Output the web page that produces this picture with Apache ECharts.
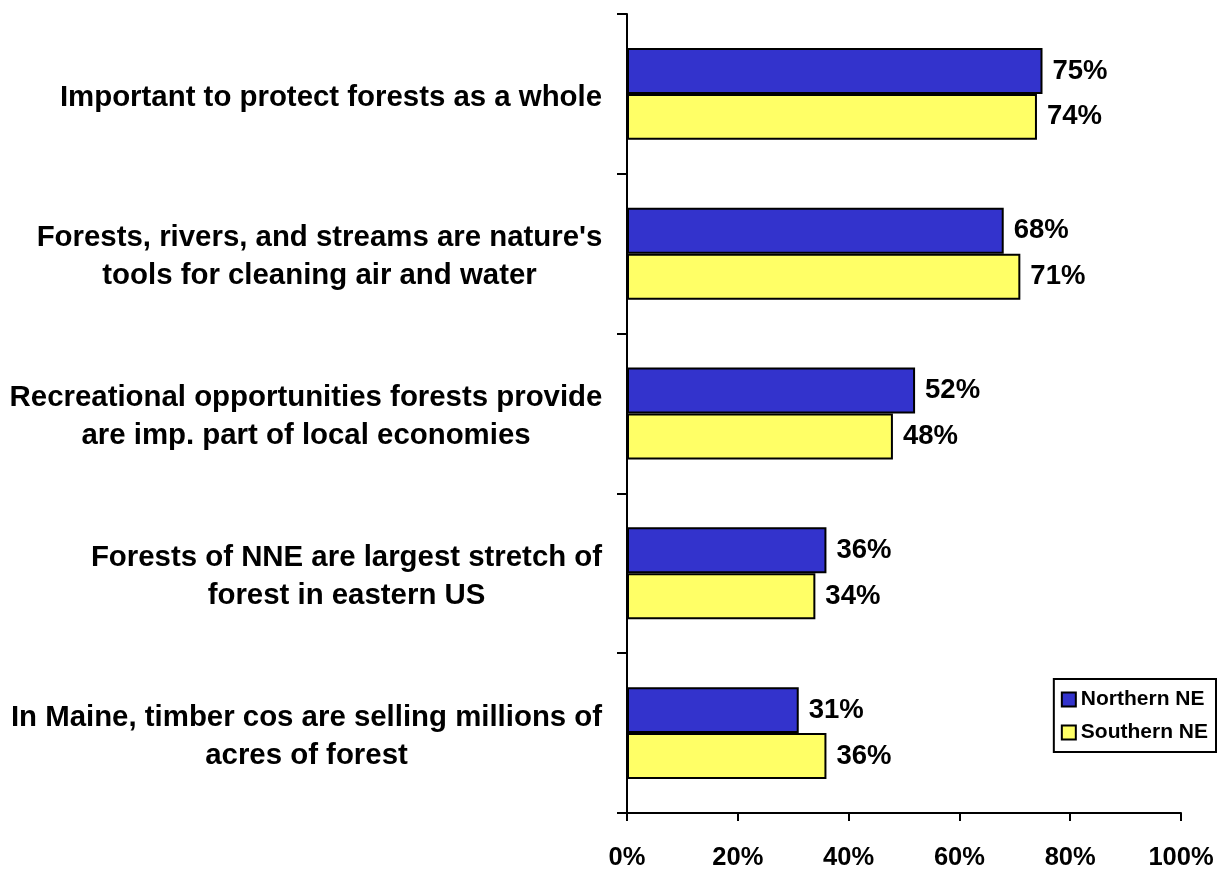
<!DOCTYPE html>
<html>
<head>
<meta charset="utf-8">
<script src="https://cdn.jsdelivr.net/npm/echarts@6/dist/echarts.min.js"></script>
<style>html,body{margin:0;padding:0;background:#fff;}#main{width:1218px;height:871px;}</style>
</head>
<body>
<div id="main"></div>
<script>
const categories = [
  "Important to protect forests as a whole",
  "Forests, rivers, and streams are nature's\ntools for cleaning air and water",
  "Recreational opportunities forests provide\nare imp. part of local economies",
  "Forests of NNE are largest stretch of\nforest in eastern US",
  "In Maine, timber cos are selling millions of\nacres of forest"
];
const northernNE = [75, 68, 52, 36, 31];
const southernNE = [74, 71, 48, 34, 36];
const xTicks = [0, 20, 40, 60, 80, 100];

const FONT = "'Liberation Sans', Arial, sans-serif";
const YFS = 29.4;

// measure label lines so multi-line labels can be centred line by line
const ctx = document.createElement('canvas').getContext('2d');
ctx.font = 'bold ' + YFS + 'px ' + FONT;
const rich = {};
categories.forEach(function (c, i) {
  const w = Math.max.apply(null, c.split('\n').map(function (l) { return ctx.measureText(l).width; }));
  rich['l' + i] = {width: Math.ceil(w) + 1, align: 'center', fontFamily: FONT, fontWeight: 'bold',
    fontSize: YFS, color: '#000', lineHeight: 38};
});

const chart = echarts.init(document.getElementById('main'), null, {renderer: 'canvas'});
chart.setOption({
  backgroundColor: '#ffffff',
  animation: false,
  grid: {left: 627, right: 37, top: 14, bottom: 56, containLabel: false},
  legend: {
    orient: 'vertical',
    right: 2, top: 679,
    backgroundColor: '#ffffff',
    borderColor: '#000', borderWidth: 2,
    padding: [10, 8, 9, 7],
    itemWidth: 14, itemHeight: 14, itemGap: 12,
    icon: 'rect',
    textStyle: {fontFamily: FONT, fontWeight: 'bold', fontSize: 21, color: '#000'},
    data: ['Northern NE', 'Southern NE']
  },
  xAxis: {
    type: 'value', min: 0, max: 100, interval: 20,
    axisLine: {show: true, lineStyle: {color: '#000', width: 2}},
    axisTick: {show: true, length: 8, lineStyle: {color: '#000', width: 2}},
    splitLine: {show: false},
    axisLabel: {
      formatter: function (v) { return xTicks.indexOf(v) >= 0 ? v + '%' : ''; },
      margin: 32, fontFamily: FONT, fontWeight: 'bold', fontSize: 25.5, color: '#000'
    }
  },
  yAxis: {
    type: 'category', inverse: true, data: categories,
    axisLine: {show: true, lineStyle: {color: '#000', width: 2}},
    axisTick: {show: true, length: 10, lineStyle: {color: '#000', width: 2}},
    axisLabel: {
      margin: 24, align: 'right', padding: [7, 0, 0, 0],
      formatter: function (v, i) {
        return v.split('\n').map(function (l) { return '{l' + i + '|' + l + '}'; }).join('\n');
      },
      rich: rich
    }
  },
  series: [
    {
      name: 'Northern NE', type: 'bar', data: northernNE,
      barGap: '0%', barCategoryGap: '42.5%',
      itemStyle: {color: '#3333CC', borderColor: '#000', borderWidth: 2},
      label: {show: true, position: 'right', distance: 10, formatter: '{c}%',
        fontFamily: FONT, fontWeight: 'bold', fontSize: 27.5, color: '#000'}
    },
    {
      name: 'Southern NE', type: 'bar', data: southernNE,
      barGap: '0%', barCategoryGap: '42.5%',
      itemStyle: {color: '#FFFF66', borderColor: '#000', borderWidth: 2},
      label: {show: true, position: 'right', distance: 10, formatter: '{c}%',
        fontFamily: FONT, fontWeight: 'bold', fontSize: 27.5, color: '#000'}
    }
  ]
});
</script>
</body>
</html>
